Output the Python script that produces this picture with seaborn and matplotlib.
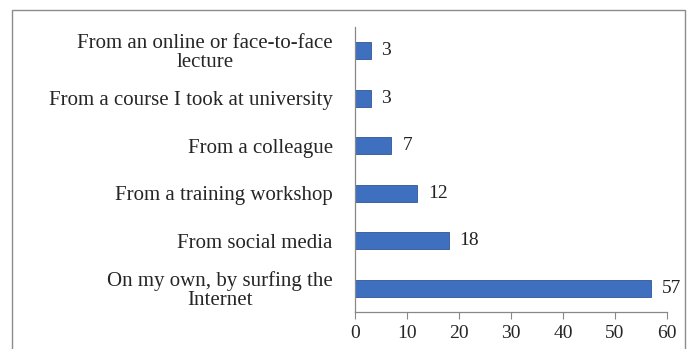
import matplotlib
matplotlib.use("Agg")
import matplotlib.pyplot as plt
import seaborn as sns
import pandas as pd
from matplotlib.patches import Rectangle

sources = [
    "From an online or face-to-face\nlecture",
    "From a course I took at university",
    "From a colleague",
    "From a training workshop",
    "From social media",
    "On my own, by surfing the\nInternet",
]
counts = [3, 3, 7, 12, 18, 57]
x_ticks = [0, 10, 20, 30, 40, 50, 60]

df = pd.DataFrame({"source": sources, "count": counts})

sns.set_theme(style="white")
plt.rcParams["font.family"] = ["Liberation Serif", "DejaVu Serif"]

fig = plt.figure(figsize=(6.89, 3.49), dpi=100)
ax = fig.add_axes([355 / 689, 1 - 312 / 349, (667 - 355) / 689, (312 - 27) / 349])

sns.barplot(data=df, x="count", y="source", orient="h", color="#3f6fbf",
            width=0.36, saturation=1, edgecolor="#2f5597", linewidth=0.6, ax=ax)

for i, v in enumerate(counts):
    ax.text(v + 2.1, i, str(v), va="center", ha="left", fontsize=14, color="#222222")

ax.set_xlim(0, 60)
ax.set_ylim(5.5, -0.5)
ax.set_xticks(x_ticks)
ax.set_xlabel("")
ax.set_ylabel("")
ax.tick_params(axis="x", length=5, width=0.8, color="#888888", labelsize=14, pad=4,
               direction="out", bottom=True)
ax.tick_params(axis="y", length=0, labelsize=15, pad=16)
for lbl in ax.get_yticklabels():
    lbl.set_multialignment("center")
    lbl.set_linespacing(0.95)

for s in ["top", "right"]:
    ax.spines[s].set_visible(False)
for s in ["left", "bottom"]:
    ax.spines[s].set_color("#888888")
    ax.spines[s].set_linewidth(0.9)

# chart frame
fig.patches.append(Rectangle((12 / 689, -0.05), (685 - 12) / 689, 1 - 10 / 349 + 0.05,
                             transform=fig.transFigure, fill=False,
                             edgecolor="#8c8c8c", linewidth=1.0))

fig.savefig("out.png", dpi=100)
